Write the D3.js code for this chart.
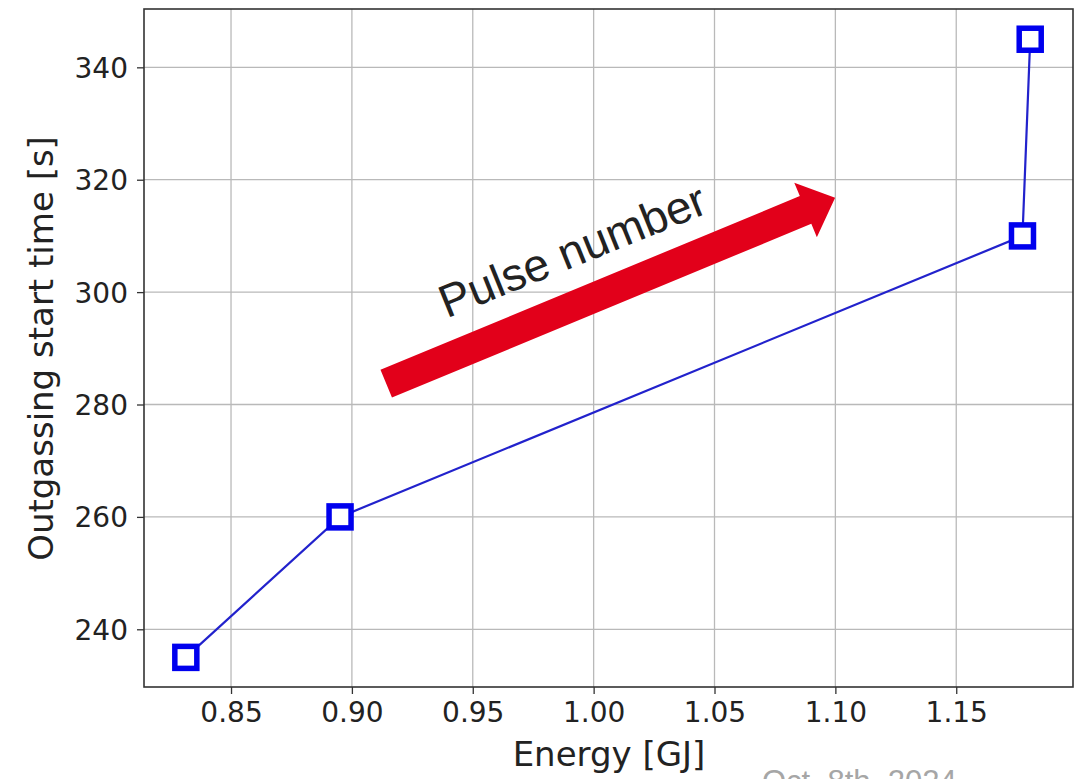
<!DOCTYPE html>
<html>
<head>
<meta charset="utf-8">
<script src="https://cdn.jsdelivr.net/npm/d3@7"></script>
<style>
  html, body { margin: 0; padding: 0; background: #ffffff; }
  svg { display: block; }
</style>
</head>
<body>
<svg id="chart" width="1076" height="779"></svg>
<script>
// ---- data ----
const energy = [0.8313, 0.8951, 1.1774, 1.1806];   // GJ
const startTime = [235, 260, 310, 345];             // s
const xTicks = [0.85, 0.90, 0.95, 1.00, 1.05, 1.10, 1.15];
const yTicks = [240, 260, 280, 300, 320, 340];
const xDomain = [0.814, 1.1983];
const yDomain = [229.73, 350.38];
const arrowFrom = [0.9142, 283.7];   // annotation arrow (data coords)
const arrowTo = [1.0999, 316.8];
const arrowLabel = "Pulse number";
const labelAt = [0.9392, 295.3];
const xLabel = "Energy [GJ]";
const yLabel = "Outgassing start time [s]";
const footer = "Oct. 8th, 2024";

// ---- layout ----
const svg = d3.select("#chart");
const L = 144, R = 1073, T = 9, B = 687;
const x = d3.scaleLinear().domain(xDomain).range([L, R]);
const y = d3.scaleLinear().domain(yDomain).range([B, T]);
const tickFont = "DejaVu Sans, sans-serif";
const textColor = "#222";

// grid
const grid = svg.append("g");
grid.selectAll("line.vx").data(xTicks).join("line")
  .attr("x1", d => x(d)).attr("x2", d => x(d)).attr("y1", T).attr("y2", B)
  .attr("stroke", "#b9b9b9").attr("stroke-width", 1.3);
grid.selectAll("line.hy").data(yTicks).join("line")
  .attr("x1", L).attr("x2", R).attr("y1", d => y(d)).attr("y2", d => y(d))
  .attr("stroke", "#b9b9b9").attr("stroke-width", 1.3);

// axes
const xAxis = d3.axisBottom(x).tickValues(xTicks).tickFormat(d3.format(".2f")).tickSizeOuter(0).tickSize(7).tickPadding(8);
const yAxis = d3.axisLeft(y).tickValues(yTicks).tickFormat(d3.format("d")).tickSizeOuter(0).tickSize(7).tickPadding(9);
const gx = svg.append("g").attr("transform", `translate(0,${B})`).call(xAxis);
const gy = svg.append("g").attr("transform", `translate(${L},0)`).call(yAxis);
[gx, gy].forEach(g => {
  g.select(".domain").remove();
  g.selectAll(".tick line").attr("stroke", "#333").attr("stroke-width", 1.3);
  g.selectAll(".tick text").attr("fill", textColor)
    .style("font-family", tickFont).style("font-size", "28px");
});
gy.selectAll(".tick text").attr("dy", "0.36em");
gx.selectAll(".tick text").attr("dy", "0.72em");

// frame
svg.append("rect").attr("x", L).attr("y", T).attr("width", R - L).attr("height", B - T)
  .attr("fill", "none").attr("stroke", "#333").attr("stroke-width", 1.6);

// axis labels
svg.append("text").attr("x", (L + R) / 2 + 0.5).attr("y", 766)
  .attr("text-anchor", "middle").attr("fill", textColor)
  .style("font-family", tickFont).style("font-size", "34px").text(xLabel);
svg.append("text").attr("transform", `translate(53,${348.5}) rotate(-90)`)
  .attr("text-anchor", "middle").attr("fill", textColor)
  .style("font-family", tickFont).style("font-size", "34px").text(yLabel);

// data line + markers
const pts = energy.map((e, i) => [e, startTime[i]]);
svg.append("path").datum(pts)
  .attr("d", d3.line().x(d => x(d[0])).y(d => y(d[1])))
  .attr("fill", "none").attr("stroke", "#2222cc").attr("stroke-width", 2.2);
const ms = 22;
svg.selectAll("rect.mk").data(pts).join("rect")
  .attr("x", d => x(d[0]) - ms / 2).attr("y", d => y(d[1]) - ms / 2)
  .attr("width", ms).attr("height", ms)
  .attr("fill", "#ffffff").attr("stroke", "#0000ee").attr("stroke-width", 5.5);

// annotation arrow
const x0 = x(arrowFrom[0]), y0 = y(arrowFrom[1]);
const x1 = x(arrowTo[0]), y1 = y(arrowTo[1]);
const len = Math.hypot(x1 - x0, y1 - y0);
const ang = Math.atan2(y1 - y0, x1 - x0) * 180 / Math.PI;
const bw = 15, hw = 29.5, hl = 32;
const arrowPts = [[0, -bw], [len - hl, -bw], [len - hl, -hw], [len, 0], [len - hl, hw], [len - hl, bw], [0, bw]];
svg.append("polygon")
  .attr("transform", `translate(${x0},${y0}) rotate(${ang})`)
  .attr("points", arrowPts.map(p => p.join(",")).join(" "))
  .attr("fill", "#e2001a");

svg.append("text")
  .attr("transform", `translate(${x(labelAt[0])},${y(labelAt[1])}) rotate(-22)`)
  .attr("fill", "#222")
  .style("font-family", "Liberation Sans, Arial, sans-serif").style("font-size", "46px")
  .text(arrowLabel);

// footer (slide text, partially cut as in the source)
svg.append("text").attr("x", 762).attr("y", 792)
  .attr("fill", "#a6a6a6")
  .style("font-family", "Liberation Sans, Arial, sans-serif").style("font-size", "31px")
  .text(footer);
</script>
</body>
</html>
